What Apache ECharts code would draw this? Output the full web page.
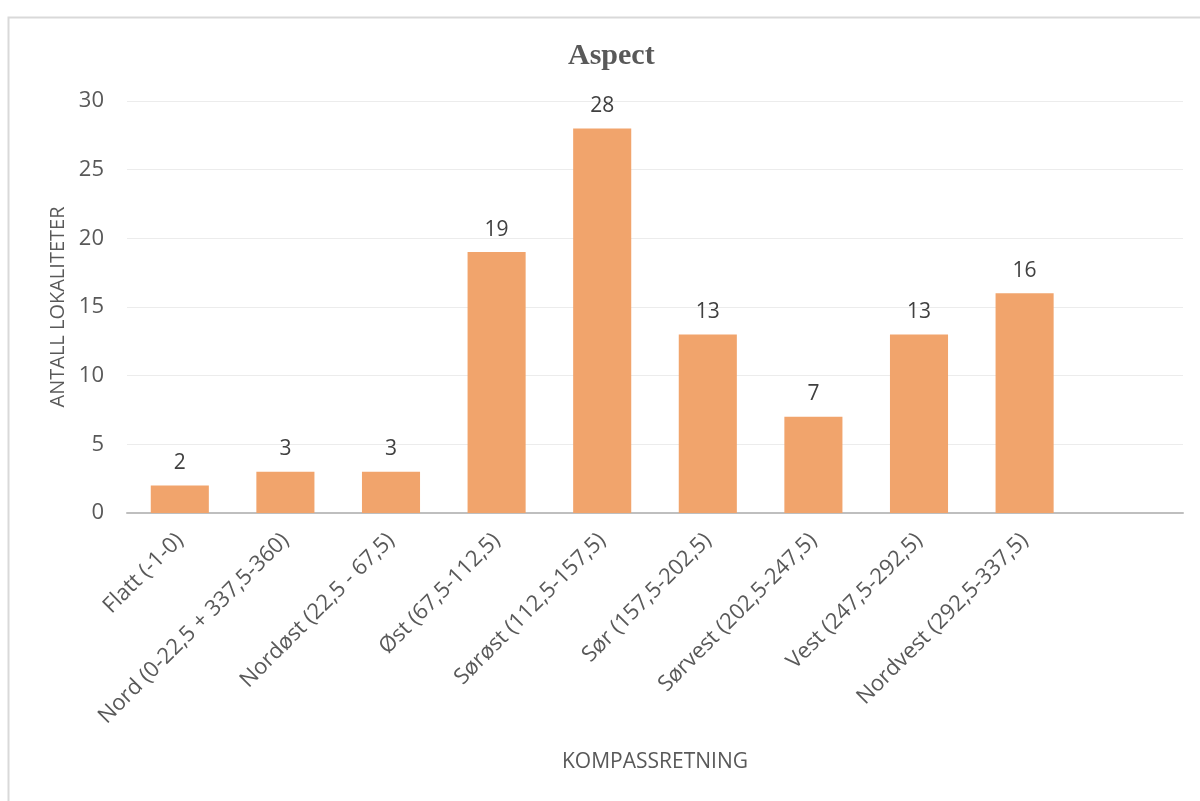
<!DOCTYPE html>
<html>
<head>
<meta charset="utf-8">
<title>Aspect</title>
<script src="https://cdn.jsdelivr.net/npm/echarts@6/dist/echarts.min.js"></script>
<style>
  html, body { margin: 0; padding: 0; background: #ffffff; }
  #chart { width: 1200px; height: 801px; }
</style>
</head>
<body>
<div id="chart"></div>
<script>
// Compass-direction classes (degrees); the last slot is an empty category
const categories = [
  'Flatt (-1-0)',
  'Nord (0-22,5 + 337,5-360)',
  'Nordøst (22,5 - 67,5)',
  'Øst (67,5-112,5)',
  'Sørøst (112,5-157,5)',
  'Sør (157,5-202,5)',
  'Sørvest (202,5-247,5)',
  'Vest (247,5-292,5)',
  'Nordvest (292,5-337,5)',
  ''
];
// Number of localities per direction
const counts = [2, 3, 3, 19, 28, 13, 7, 13, 16, null];
const yTicks = [0, 5, 10, 15, 20, 25, 30];

const FONT = '"Open Sans", "DejaVu Sans", sans-serif';
const TEXT = '#595959';

const chart = echarts.init(document.getElementById('chart'), null, { renderer: 'canvas' });

chart.setOption({
  backgroundColor: '#ffffff',
  animation: false,
  graphic: [{
    type: 'rect',
    left: 6, top: 15,
    shape: { width: 1220, height: 820 },
    style: { fill: 'none', stroke: '#d9d9d9', lineWidth: 2 },
    silent: true
  }],
  title: {
    text: 'Aspect',
    left: 563,
    top: 36,
    textStyle: {
      fontFamily: '"Liberation Serif", "Times New Roman", serif',
      fontWeight: 'bold',
      fontSize: 30,
      color: TEXT
    }
  },
  grid: { left: 127, right: 17, top: 101, bottom: 288, containLabel: false },
  xAxis: {
    type: 'category',
    data: categories,
    name: 'KOMPASSRETNING',
    nameLocation: 'middle',
    nameGap: 239,
    nameTextStyle: { fontFamily: FONT, fontSize: 21, color: TEXT },
    axisLine: { lineStyle: { color: '#bfbfbf', width: 2 } },
    axisTick: { show: false },
    axisLabel: {
      interval: 0,
      rotate: 45,
      margin: 24,
      fontFamily: FONT,
      fontSize: 22,
      color: TEXT
    }
  },
  yAxis: {
    type: 'value',
    min: yTicks[0],
    max: yTicks[yTicks.length - 1],
    interval: yTicks[1] - yTicks[0],
    name: 'ANTALL LOKALITETER',
    nameLocation: 'middle',
    nameGap: 58,
    nameRotate: 90,
    nameTextStyle: { fontFamily: FONT, fontSize: 20, color: TEXT },
    axisLine: { show: false },
    axisTick: { show: false },
    axisLabel: {
      margin: 23,
      fontFamily: FONT,
      fontSize: 22,
      color: TEXT
    },
    splitLine: { lineStyle: { color: '#ececec', width: 1 } }
  },
  series: [{
    type: 'bar',
    data: counts,
    barWidth: '55%',
    itemStyle: { color: '#f1a46c' },
    label: {
      show: true,
      position: 'top',
      distance: 12,
      fontFamily: FONT,
      fontSize: 21,
      color: '#404040'
    }
  }]
});
</script>
</body>
</html>
